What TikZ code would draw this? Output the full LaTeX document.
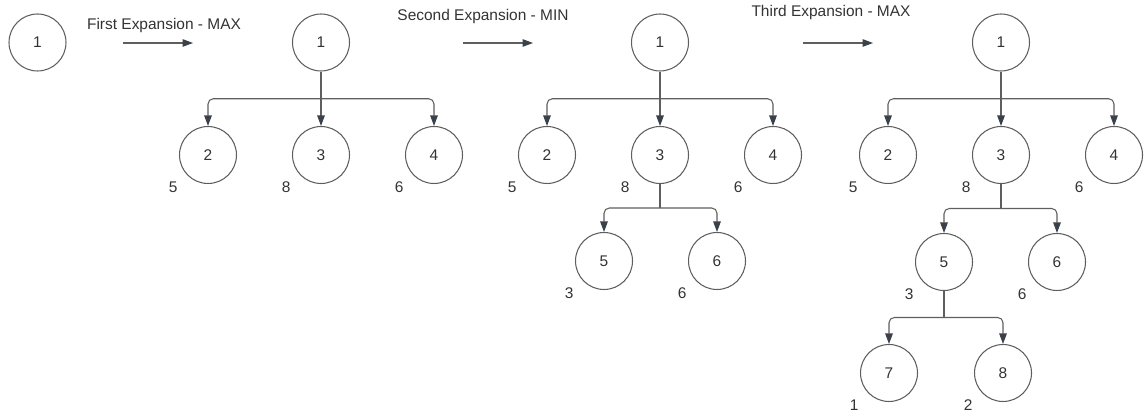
\documentclass[tikz,border=0pt]{standalone}
\usepackage{fontspec}
\setmainfont{Liberation Sans}
\usetikzlibrary{arrows.meta, positioning, calc}
\definecolor{inkgray}{RGB}{51,51,51}
\definecolor{linegray}{RGB}{94,94,94}
\definecolor{tipgray}{RGB}{58,65,74}

\begin{document}
\begin{tikzpicture}[
    x=0.02cm, y=-0.02cm,
    >={Triangle[length=2.1mm, width=1.5mm, color=tipgray]},
    every node/.style={font=\fontsize{8.8}{10}\selectfont, text=inkgray},
    state/.style={circle, draw=linegray, line width=0.6pt, minimum size=1.14cm, inner sep=0pt},
    val/.style={label={[inner sep=0pt, label distance=0.22cm]221:#1}},
    trunk/.style={draw=linegray, line width=0.6pt},
    link/.style={->, draw=linegray, line width=0.6pt, rounded corners=3pt},
]
    \useasboundingbox (0,0) rectangle (1145,418);

    % Start state
    \node[state] (n0) at (37.5,42.5) {1};

    % First expansion - MAX
    \node (t1) at (164,26) {First Expansion - MAX};
    \coordinate (t1a) at (123,43);
    \coordinate (t1b) at (193,43);
    \draw[link] (t1a) -- (t1b);

    \node[state] (a1) at (321,42.5) {1};
    \node[state, val=5] (a2) at (208,155) {2};
    \node[state, val=8] (a3) at (321,155) {3};
    \node[state, val=6] (a4) at (434,155) {4};
    \path ($(a1.south)!0.5!(a3.north)$) coordinate (busa);
    \draw[link] (a1.south) -- (a3.north);
    \foreach \c in {a2,a4}
        \draw[link] (busa) -| (\c.north);

    % Second expansion - MIN
    \node (t2) at (483,17) {Second Expansion - MIN};
    \coordinate (t2a) at (463,43);
    \coordinate (t2b) at (533,43);
    \draw[link] (t2a) -- (t2b);

    \node[state] (b1) at (660,42.5) {1};
    \node[state, val=5] (b2) at (547,155) {2};
    \node[state, val=8] (b3) at (660,155) {3};
    \node[state, val=6] (b4) at (773,155) {4};
    \node[state, val=3] (b5) at (604,261) {5};
    \node[state, val=6] (b6) at (717,261) {6};
    \path ($(b1.south)!0.5!(b3.north)$) coordinate (busb);
    \path (b3.south |- {$(b3.south)!0.5!(b5.north)$}) coordinate (busbb);
    \draw[link] (b1.south) -- (b3.north);
    \foreach \c in {b2,b4}
        \draw[link] (busb) -| (\c.north);
    \draw[trunk] (b3.south) -- (busbb);
    \foreach \c in {b5,b6}
        \draw[link] (busbb) -| (\c.north);

    % Third expansion - MAX
    \node (t3) at (831,13) {Third Expansion - MAX};
    \coordinate (t3a) at (803,43);
    \coordinate (t3b) at (873,43);
    \draw[link] (t3a) -- (t3b);

    \node[state] (c1) at (1001,42.5) {1};
    \node[state, val=5] (c2) at (888,155) {2};
    \node[state, val=8] (c3) at (1001,155) {3};
    \node[state, val=6] (c4) at (1114,155) {4};
    \node[state, val=3] (c5) at (944,262) {5};
    \node[state, val=6] (c6) at (1057,262) {6};
    \node[state, val=1] (c7) at (889,373) {7};
    \node[state, val=2] (c8) at (1003,373) {8};
    \path ($(c1.south)!0.5!(c3.north)$) coordinate (busc);
    \path (c3.south |- {$(c3.south)!0.5!(c5.north)$}) coordinate (buscc);
    \path (c5.south |- {$(c5.south)!0.5!(c7.north)$}) coordinate (busccc);
    \draw[link] (c1.south) -- (c3.north);
    \foreach \c in {c2,c4}
        \draw[link] (busc) -| (\c.north);
    \draw[trunk] (c3.south) -- (buscc);
    \foreach \c in {c5,c6}
        \draw[link] (buscc) -| (\c.north);
    \draw[trunk] (c5.south) -- (busccc);
    \foreach \c in {c7,c8}
        \draw[link] (busccc) -| (\c.north);
\end{tikzpicture}
\end{document}
